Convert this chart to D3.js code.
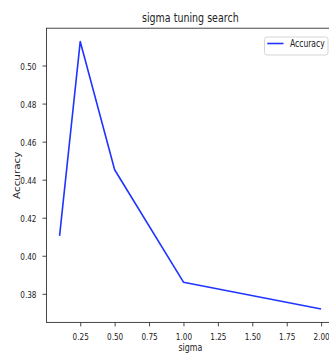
<!DOCTYPE html>
<html>
<head>
<meta charset="utf-8">
<script src="https://cdn.jsdelivr.net/npm/d3@7"></script>
<style>
  html, body { margin: 0; padding: 0; background: #fff; }
  svg { display: block; }
  text { font-family: "DejaVu Sans", sans-serif; fill: #222; }
</style>
</head>
<body>
<svg id="chart" width="329" height="354"></svg>
<script>
// Sigma values tried and the accuracy reached for each
const sigmas = [0.1, 0.25, 0.5, 1.0, 2.0];
const accuracy = [0.4105, 0.5126, 0.4452, 0.3861, 0.3720];
const xTicks = [0.25, 0.50, 0.75, 1.00, 1.25, 1.50, 1.75, 2.00];
const yTicks = [0.38, 0.40, 0.42, 0.44, 0.46, 0.48, 0.50];
const seriesName = "Accuracy";
const titleText = "sigma tuning search";
const xLabel = "sigma";
const yLabel = "Accuracy";

const squish = 0.76;        // narrow horizontal glyph rendering
const lineColor = "#1f35ff";

const svg = d3.select("#chart");
const plot = { left: 46.5, right: 334.2, top: 28.2, bottom: 322.4 };

// 5% margins around the data extent
const xExt = d3.extent(sigmas), yExt = d3.extent(accuracy);
const xPad = (xExt[1] - xExt[0]) * 0.05, yPad = (yExt[1] - yExt[0]) * 0.05;
const x = d3.scaleLinear().domain([xExt[0] - xPad, xExt[1] + xPad]).range([plot.left, plot.right]);
const y = d3.scaleLinear().domain([yExt[0] - yPad, yExt[1] + yPad]).range([plot.bottom, plot.top]);

// Frame
svg.append("rect")
  .attr("x", plot.left).attr("y", plot.top)
  .attr("width", plot.right - plot.left).attr("height", plot.bottom - plot.top)
  .attr("fill", "none").attr("stroke", "#333").attr("stroke-width", 0.9);

// X axis
const gx = svg.append("g")
  .attr("transform", `translate(0,${plot.bottom})`)
  .call(d3.axisBottom(x).tickValues(xTicks).tickFormat(d3.format(".2f")).tickSize(4).tickSizeOuter(0));
gx.select(".domain").remove();
gx.selectAll(".tick line").attr("stroke", "#333").attr("stroke-width", 0.9);
gx.selectAll(".tick text")
  .attr("y", 0).attr("dy", 0)
  .attr("transform", `translate(0,17.6) scale(${squish},1)`)
  .style("font-size", "9.6px").style("font-family", "DejaVu Sans").attr("fill", "#222");

// Y axis
const gy = svg.append("g")
  .attr("transform", `translate(${plot.left},0)`)
  .call(d3.axisLeft(y).tickValues(yTicks).tickFormat(d3.format(".2f")).tickSize(4).tickSizeOuter(0));
gy.select(".domain").remove();
gy.selectAll(".tick line").attr("stroke", "#333").attr("stroke-width", 0.9);
gy.selectAll(".tick text")
  .attr("x", 0).attr("dy", "0.36em")
  .attr("transform", `translate(-10,0) scale(${squish},1)`)
  .style("font-size", "9.6px").style("font-family", "DejaVu Sans").attr("fill", "#222");

// Accuracy line
const line = d3.line().x((d, i) => x(sigmas[i])).y(d => y(d));
svg.append("path")
  .datum(accuracy)
  .attr("d", line)
  .attr("fill", "none")
  .attr("stroke", lineColor)
  .attr("stroke-width", 1.6)
  .attr("stroke-linejoin", "round");

// Title
svg.append("text")
  .attr("transform", `translate(${(plot.left + plot.right) / 2},21.5) scale(${squish},1)`)
  .attr("text-anchor", "middle")
  .style("font-size", "12.5px")
  .text(titleText);

// Axis labels
svg.append("text")
  .attr("transform", `translate(${(plot.left + plot.right) / 2},351) scale(${squish},1)`)
  .attr("text-anchor", "middle")
  .style("font-size", "10.4px")
  .text(xLabel);

svg.append("text")
  .attr("transform", `translate(19.5,${(plot.top + plot.bottom) / 2}) scale(${squish},1) rotate(-90)`)
  .attr("text-anchor", "middle")
  .style("font-size", "10.4px")
  .text(yLabel);

// Legend
const lg = svg.append("g").attr("transform", "translate(264.5,37)");
lg.append("rect")
  .attr("width", 63.5).attr("height", 18).attr("rx", 2.5)
  .attr("fill", "#fff").attr("stroke", "#d0d0d0").attr("stroke-width", 0.9);
lg.append("line")
  .attr("x1", 2.8).attr("x2", 19).attr("y1", 6.5).attr("y2", 6.5)
  .attr("stroke", lineColor).attr("stroke-width", 1.6);
lg.append("text")
  .attr("transform", `translate(25.5,10.2) scale(${squish},1)`)
  .style("font-size", "10px")
  .text(seriesName);
</script>
</body>
</html>
